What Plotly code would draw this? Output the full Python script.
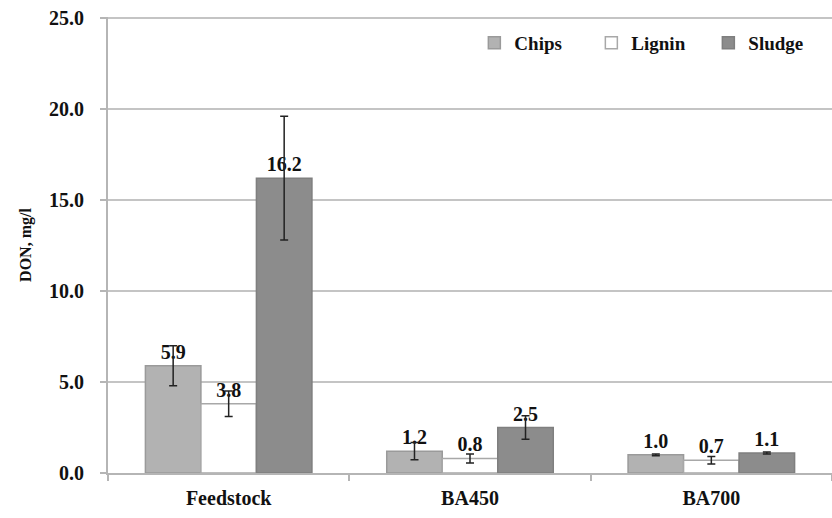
import plotly.graph_objects as go

categories = ["Feedstock", "BA450", "BA700"]
series_names = ["Chips", "Lignin", "Sludge"]
chips = [5.9, 1.2, 1.0]
lignin = [3.8, 0.8, 0.7]
sludge = [16.2, 2.5, 1.1]
chips_err = [1.1, 0.47, 0.05]
lignin_err = [0.7, 0.25, 0.2]
sludge_err = [3.4, 0.65, 0.05]
y_ticks = [0, 5, 10, 15, 20, 25]

values = [chips, lignin, sludge]
errors = [chips_err, lignin_err, sludge_err]
fills = ["#b2b2b2", "#ffffff", "#8c8c8c"]
lines = ["#9a9a9a", "#a8a8a8", "#7f7f7f"]

font_family = "Liberation Serif"

fig = go.Figure()
for name, vals, errs, fc, lc in zip(series_names, values, errors, fills, lines):
    fig.add_trace(go.Bar(
        name=name, x=categories, y=vals,
        marker=dict(color=fc, line=dict(color=lc, width=1.5)),
        error_y=dict(type="data", array=errs, color="#222222", thickness=1.5, width=4),
        text=[f"{v:.1f}" for v in vals],
        textposition="outside",
        textfont=dict(family=font_family, size=20, color="#111111", weight="bold"),
        cliponaxis=False,
    ))

fig.update_layout(
    width=832, height=518,
    margin=dict(l=108, r=0, t=17, b=45),
    paper_bgcolor="white", plot_bgcolor="white",
    barmode="group", bargap=0.31, bargroupgap=0,
    showlegend=True,
    legend=dict(orientation="h", x=0.506, y=0.985, xanchor="left", yanchor="top",
                font=dict(family=font_family, size=19, color="#111111", weight="bold"),
                itemwidth=30, entrywidth=72, entrywidthmode="pixels",
                bgcolor="rgba(0,0,0,0)", traceorder="normal"),
    font=dict(family=font_family, color="#111111"),
)

fig.update_yaxes(
    range=[0, 25.06], tickvals=y_ticks,
    ticktext=[f"{v:.1f}" for v in y_ticks],
    tickfont=dict(family=font_family, size=20, color="#111111", weight="bold"),
    showgrid=True, gridcolor="#c4c4c4", gridwidth=1.5,
    showline=True, linecolor="#b5b5b5", linewidth=2,
    ticks="outside", ticklen=6, tickcolor="#b5b5b5", tickwidth=2,
    ticklabelstandoff=12,
    zeroline=False,
    title=dict(text="DON, mg/l", font=dict(family=font_family, size=16, color="#111111", weight="bold"), standoff=13),
)
fig.update_xaxes(
    tickvals=categories, ticktext=categories,
    tickfont=dict(family=font_family, size=20, color="#111111", weight="bold"),
    showline=True, linecolor="#b5b5b5", linewidth=2,
    ticks="outside", tickson="boundaries", ticklen=6, tickcolor="#b5b5b5", tickwidth=2,
    ticklabelstandoff=6,
    showgrid=False,
)

fig.write_html("out.html")
